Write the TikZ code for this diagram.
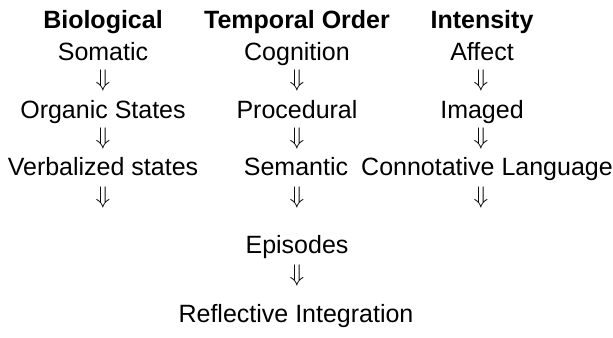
\documentclass[tikz,border=0pt]{standalone}
\usepackage{fontspec}
\setmainfont{Liberation Sans}
\begin{document}
\begin{tikzpicture}[x=0.5pt,y=-0.5pt,
  lbl/.style={anchor=base,inner sep=0pt,font=\fontsize{12.5}{15}\selectfont},
  head/.style={lbl,font=\fontsize{12.5}{15}\selectfont\bfseries},
  darr/.style={inner sep=0pt,font=\fontsize{12.5}{15}\selectfont}]
\useasboundingbox (0,0) rectangle (613,337);
% column headings
\node[head] (bio) at (103,28) {Biological};
\node[head] (temp) at (297,28) {Temporal Order};
\node[head] (inten) at (482,28) {Intensity};
% biological
\node[lbl] (somatic) at (103,60) {Somatic};
\node[darr] (ba1) at (103,80) {$\Downarrow$};
\node[lbl] (organic) at (103,118) {Organic States};
\node[darr] (ba2) at (103,138) {$\Downarrow$};
\node[lbl] (verbal) at (103,175) {Verbalized states};
\node[darr] (ba3) at (103,197.5) {$\Downarrow$};
% temporal order
\node[lbl] (cogn) at (297,60) {Cognition};
\node[darr] (ta1) at (297,80) {$\Downarrow$};
\node[lbl] (proc) at (297,118) {Procedural};
\node[darr] (ta2) at (297,138) {$\Downarrow$};
\node[lbl] (sem) at (296,175) {Semantic};
\node[darr] (ta3) at (297,197.5) {$\Downarrow$};
\node[lbl] (epis) at (297,253) {Episodes};
\node[darr] (ta4) at (297,275.5) {$\Downarrow$};
\node[lbl] (refl) at (296,322) {Reflective Integration};
% intensity
\node[lbl] (affect) at (482,60) {Affect};
\node[darr] (ia1) at (481,80) {$\Downarrow$};
\node[lbl] (imaged) at (482,118) {Imaged};
\node[darr] (ia2) at (481,138) {$\Downarrow$};
\node[lbl] (conn) at (487,175) {Connotative Language};
\node[darr] (ia3) at (481,197.5) {$\Downarrow$};
\end{tikzpicture}
\end{document}
